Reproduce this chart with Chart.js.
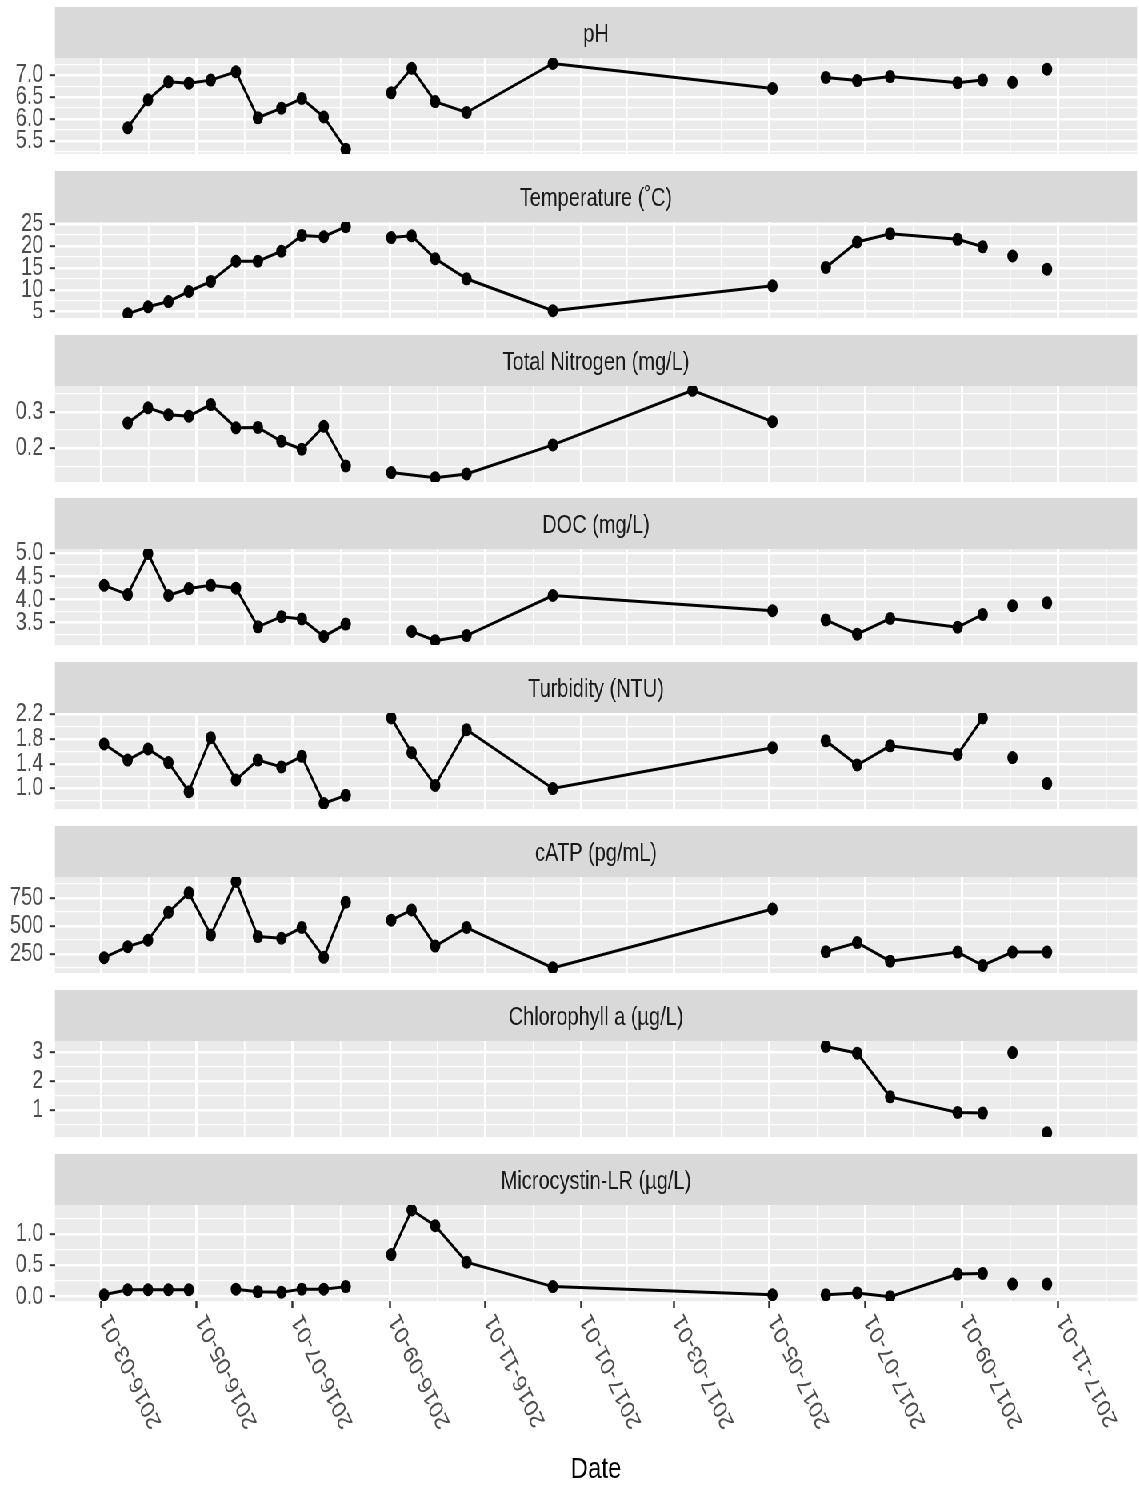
<!DOCTYPE html>
<html>
<head>
<meta charset="utf-8">
<title>Water quality parameters over time</title>
<script src="https://cdn.jsdelivr.net/npm/chart.js@4.4.1/dist/chart.umd.min.js"></script>
<style>
  html, body { margin: 0; padding: 0; background: #fff; overflow: hidden; }
  /* the figure is laid out wide and squeezed horizontally, like the reference */
  #figure { position: absolute; left: 0; top: 0; width: 1424px; height: 1487px; transform: scaleX(0.8); transform-origin: 0 0; }
  .panel { position: absolute; left: 0; }
</style>
</head>
<body>
<div id="figure"></div>
<script>
// sampling dates (one entry per sampling run)
const sampleDates = [
  '2016-03-03', '2016-03-18', '2016-03-31', '2016-04-13', '2016-04-26', '2016-05-10',
  '2016-05-26', '2016-06-09', '2016-06-24', '2016-07-07', '2016-07-21', '2016-08-04',
  '2016-09-02', '2016-09-15', '2016-09-30', '2016-10-20', '2016-12-14', '2017-03-13',
  '2017-05-03', '2017-06-06', '2017-06-26', '2017-07-17', '2017-08-29', '2017-09-14',
  '2017-10-03', '2017-10-25'
];

const phValues = [null, 5.80, 6.44, 6.85, 6.82, 6.89, 7.08, 6.03, 6.25, 6.47, 6.05, 5.31,
  6.60, 7.16, 6.40, 6.15, 7.27, null, 6.70, 6.95, 6.88, 6.97, 6.83, 6.89, 6.84, 7.14];
const tempValues = [null, 4.5, 6.1, 7.3, 9.6, 11.9, 16.5, 16.5, 18.8, 22.4, 22.1, 24.4,
  21.9, 22.3, 17.1, 12.5, 5.2, null, 10.9, 15.1, 20.9, 22.8, 21.5, 19.8, 17.7, 14.7];
const nitrogenValues = [null, 0.269, 0.311, 0.292, 0.288, 0.320, 0.256, 0.257, 0.219, 0.197, 0.260, 0.151,
  0.133, null, 0.119, 0.129, 0.209, 0.359, 0.273, null, null, null, null, null, null, null];
const docValues = [4.31, 4.11, 5.00, 4.09, 4.24, 4.31, 4.25, 3.41, 3.63, 3.58, 3.20, 3.47,
  null, 3.31, 3.11, 3.22, 4.09, null, 3.76, 3.56, 3.25, 3.59, 3.40, 3.68, 3.87, 3.93];
const turbidityValues = [1.72, 1.46, 1.64, 1.42, 0.95, 1.82, 1.14, 1.46, 1.35, 1.52, 0.76, 0.89,
  2.14, 1.58, 1.05, 1.95, 1.00, null, 1.66, 1.77, 1.38, 1.69, 1.55, 2.14, 1.50, 1.08];
const catpValues = [215, 314, 371, 621, 795, 419, 897, 404, 389, 485, 218, 711,
  551, 642, 319, 485, 124, null, 651, 268, 350, 184, 265, 145, 265, 265];
const chlorophyllValues = [null, null, null, null, null, null, null, null, null, null, null, null,
  null, null, null, null, null, null, null, 3.20, 2.97, 1.46, 0.92, 0.90, 2.99, 0.22];
const microcystinValues = [0.03, 0.11, 0.11, 0.11, 0.11, null, 0.12, 0.08, 0.07, 0.12, 0.12, 0.16,
  0.67, 1.38, 1.13, 0.55, 0.16, null, 0.03, 0.03, 0.06, 0.00, 0.36, 0.37, 0.20, 0.20];

// index of the sample where a new, unconnected run of the line starts
const phBreaks = [12, 19, 24, 25];
const tempBreaks = [12, 19, 24, 25];
const nitrogenBreaks = [12];
const docBreaks = [13, 19, 24, 25];
const turbidityBreaks = [12, 19, 24, 25];
const catpBreaks = [12, 19];
const chlorophyllBreaks = [24, 25];
const microcystinBreaks = [6, 12, 19, 24, 25];

// labelled y ticks per panel
const phTicks = [5.5, 6.0, 6.5, 7.0];
const tempTicks = [5, 10, 15, 20, 25];
const nitrogenTicks = [0.2, 0.3];
const docTicks = [3.5, 4.0, 4.5, 5.0];
const turbidityTicks = [1.0, 1.4, 1.8, 2.2];
const catpTicks = [250, 500, 750];
const chlorophyllTicks = [1, 2, 3];
const microcystinTicks = [0.0, 0.5, 1.0];

// labelled date ticks
const majorDates = ['2016-03-01', '2016-05-01', '2016-07-01', '2016-09-01', '2016-11-01', '2017-01-01',
  '2017-03-01', '2017-05-01', '2017-07-01', '2017-09-01', '2017-11-01'];

const panels = [
  { title: 'pH', values: phValues, breaks: phBreaks, ticks: phTicks, decimals: 1, range: [5.203, 7.395] },
  { title: 'Temperature (\u02DAC)', values: tempValues, breaks: tempBreaks, ticks: tempTicks, decimals: 0, range: [3.55, 25.46] },
  { title: 'Total Nitrogen (mg/L)', values: nitrogenValues, breaks: nitrogenBreaks, ticks: nitrogenTicks, decimals: 1, range: [0.107, 0.371] },
  { title: 'DOC (mg/L)', values: docValues, breaks: docBreaks, ticks: docTicks, decimals: 1, range: [3.015, 5.10] },
  { title: 'Turbidity (NTU)', values: turbidityValues, breaks: turbidityBreaks, ticks: turbidityTicks, decimals: 1, range: [0.67, 2.22] },
  { title: 'cATP (pg/mL)', values: catpValues, breaks: catpBreaks, ticks: catpTicks, decimals: 0, range: [78, 937] },
  { title: 'Chlorophyll a (\u00B5g/L)', values: chlorophyllValues, breaks: chlorophyllBreaks, ticks: chlorophyllTicks, decimals: 0, range: [0.073, 3.39] },
  { title: 'Microcystin-LR (\u00B5g/L)', values: microcystinValues, breaks: microcystinBreaks, ticks: microcystinTicks, decimals: 1, range: [-0.069, 1.46] }
];

const FIG_W = 1424;
const FIG_H = 1487;
const PANEL_LEFT = 68.75;
const PANEL_RIGHT_PAD = 2.75;
const STRIP_H = 51;
const PLOT_H = 96;
const panelTops = [7, 171, 335, 498, 662, 826, 990, 1154];
const X_MIN = Date.parse('2016-01-31T16:18:00Z');
const X_MAX = Date.parse('2017-12-21T08:24:00Z');
const TEXT_FONT = '25px "Liberation Sans", Arial, sans-serif';

Chart.defaults.font.family = '"Liberation Sans", Arial, Helvetica, sans-serif';

// date grid: labelled ticks plus midpoints between them
const majorMs = majorDates.map(d => Date.parse(d));
const breakSpan = [Date.parse('2016-01-01')].concat(majorMs, [Date.parse('2018-01-01')]);
const xTicks = majorMs.map(v => ({ value: v, isMajor: true }));
for (let i = 1; i < breakSpan.length; i++) {
  const mid = (breakSpan[i - 1] + breakSpan[i]) / 2;
  if (mid >= X_MIN && mid <= X_MAX) xTicks.push({ value: mid, isMajor: false });
}
xTicks.sort((a, b) => a.value - b.value);

function yTicks(p) {
  const step = p.ticks[1] - p.ticks[0];
  const minors = p.ticks.map(v => v - step / 2).concat([p.ticks[p.ticks.length - 1] + step / 2]);
  return p.ticks.map(v => ({ value: v, isMajor: true }))
    .concat(minors.map(v => ({ value: v, isMajor: false })))
    .filter(t => t.value >= p.range[0] && t.value <= p.range[1])
    .sort((a, b) => a.value - b.value);
}

const isMajor = c => c.tick && c.tick.isMajor;

const panelDecor = {
  id: 'panelDecor',
  beforeDraw(chart, args, opts) {
    const { ctx, chartArea: a } = chart;
    ctx.save();
    ctx.fillStyle = '#EBEBEB';
    ctx.fillRect(a.left, a.top, a.right - a.left, a.bottom - a.top);
    ctx.fillStyle = '#D9D9D9';
    ctx.fillRect(a.left, a.top - STRIP_H, a.right - a.left, STRIP_H);
    ctx.fillStyle = '#1A1A1A';
    ctx.font = TEXT_FONT;
    ctx.textAlign = 'center';
    ctx.textBaseline = 'alphabetic';
    ctx.fillText(opts.title, (a.left + a.right) / 2, a.top - STRIP_H + 35);
    ctx.restore();
  }
};

const dateLabels = {
  id: 'dateLabels',
  afterDraw(chart) {
    const ctx = chart.ctx;
    const xs = chart.scales.x;
    ctx.save();
    ctx.font = TEXT_FONT;
    ctx.fillStyle = '#4D4D4D';
    ctx.textAlign = 'right';
    ctx.textBaseline = 'middle';
    majorDates.forEach(d => {
      const px = xs.getPixelForValue(Date.parse(d));
      ctx.save();
      ctx.translate(px + 6, xs.top + 15);
      ctx.rotate(-2 * Math.PI / 3);
      ctx.fillText(d, 0, 0);
      ctx.restore();
    });
    ctx.restore();
  }
};

const fig = document.getElementById('figure');

panels.forEach((p, i) => {
  const last = i === panels.length - 1;
  const holder = document.createElement('div');
  holder.className = 'panel';
  holder.style.top = panelTops[i] + 'px';
  const canvas = document.createElement('canvas');
  canvas.width = FIG_W;
  canvas.height = last ? FIG_H - panelTops[i] : STRIP_H + PLOT_H;
  holder.appendChild(canvas);
  fig.appendChild(holder);

  const xAxisH = last ? canvas.height - STRIP_H - PLOT_H : 0;

  new Chart(canvas, {
    type: 'line',
    data: {
      datasets: [{
        label: p.title,
        data: sampleDates.map((d, j) => ({ x: Date.parse(d), y: p.values[j] })),
        borderColor: '#000',
        borderWidth: 3,
        pointRadius: 6.5,
        pointBorderWidth: 0,
        pointBackgroundColor: '#000',
        spanGaps: true,
        clip: 0,
        segment: {
          borderColor: c => p.breaks.includes(c.p1DataIndex) ? 'rgba(0,0,0,0)' : '#000'
        }
      }]
    },
    plugins: last ? [panelDecor, dateLabels] : [panelDecor],
    options: {
      responsive: false,
      animation: false,
      events: [],
      devicePixelRatio: 1,
      layout: { autoPadding: false, padding: { top: STRIP_H, right: PANEL_RIGHT_PAD, bottom: 0, left: 0 } },
      plugins: {
        legend: { display: false },
        tooltip: { enabled: false },
        panelDecor: { title: p.title }
      },
      scales: {
        x: {
          type: 'linear',
          min: X_MIN,
          max: X_MAX,
          afterBuildTicks: axis => { axis.ticks = xTicks.map(t => ({ value: t.value, isMajor: t.isMajor })); },
          afterFit: axis => {
            axis.height = xAxisH;
            axis.paddingLeft = 0; axis.paddingRight = 0; axis.paddingTop = 0; axis.paddingBottom = 0;
          },
          border: { display: false },
          grid: {
            color: '#fff',
            lineWidth: c => isMajor(c) ? 3 : 1.6,
            drawTicks: last,
            tickLength: 7,
            tickWidth: 2.5,
            tickColor: c => isMajor(c) ? '#333333' : 'rgba(0,0,0,0)'
          },
          ticks: { display: false, autoSkip: false },
          title: {
            display: last,
            text: 'Date',
            color: '#000',
            font: { size: 30, lineHeight: 1 },
            padding: { top: 0, bottom: 2 }
          }
        },
        y: {
          min: p.range[0],
          max: p.range[1],
          afterBuildTicks: axis => { axis.ticks = yTicks(p); },
          afterFit: axis => {
            axis.width = PANEL_LEFT;
            axis.paddingLeft = 0; axis.paddingRight = 0; axis.paddingTop = 0; axis.paddingBottom = 0;
          },
          border: { display: false },
          grid: {
            color: '#fff',
            lineWidth: c => isMajor(c) ? 2.4 : 1.3,
            tickLength: 7,
            tickWidth: 2,
            tickColor: c => isMajor(c) ? '#333333' : 'rgba(0,0,0,0)'
          },
          ticks: {
            autoSkip: false,
            padding: 7.5,
            color: '#4D4D4D',
            font: { size: 25 },
            callback: (v, idx, ticks) => ticks[idx].isMajor ? v.toFixed(p.decimals) : ''
          }
        }
      }
    }
  });
});
</script>
</body>
</html>
